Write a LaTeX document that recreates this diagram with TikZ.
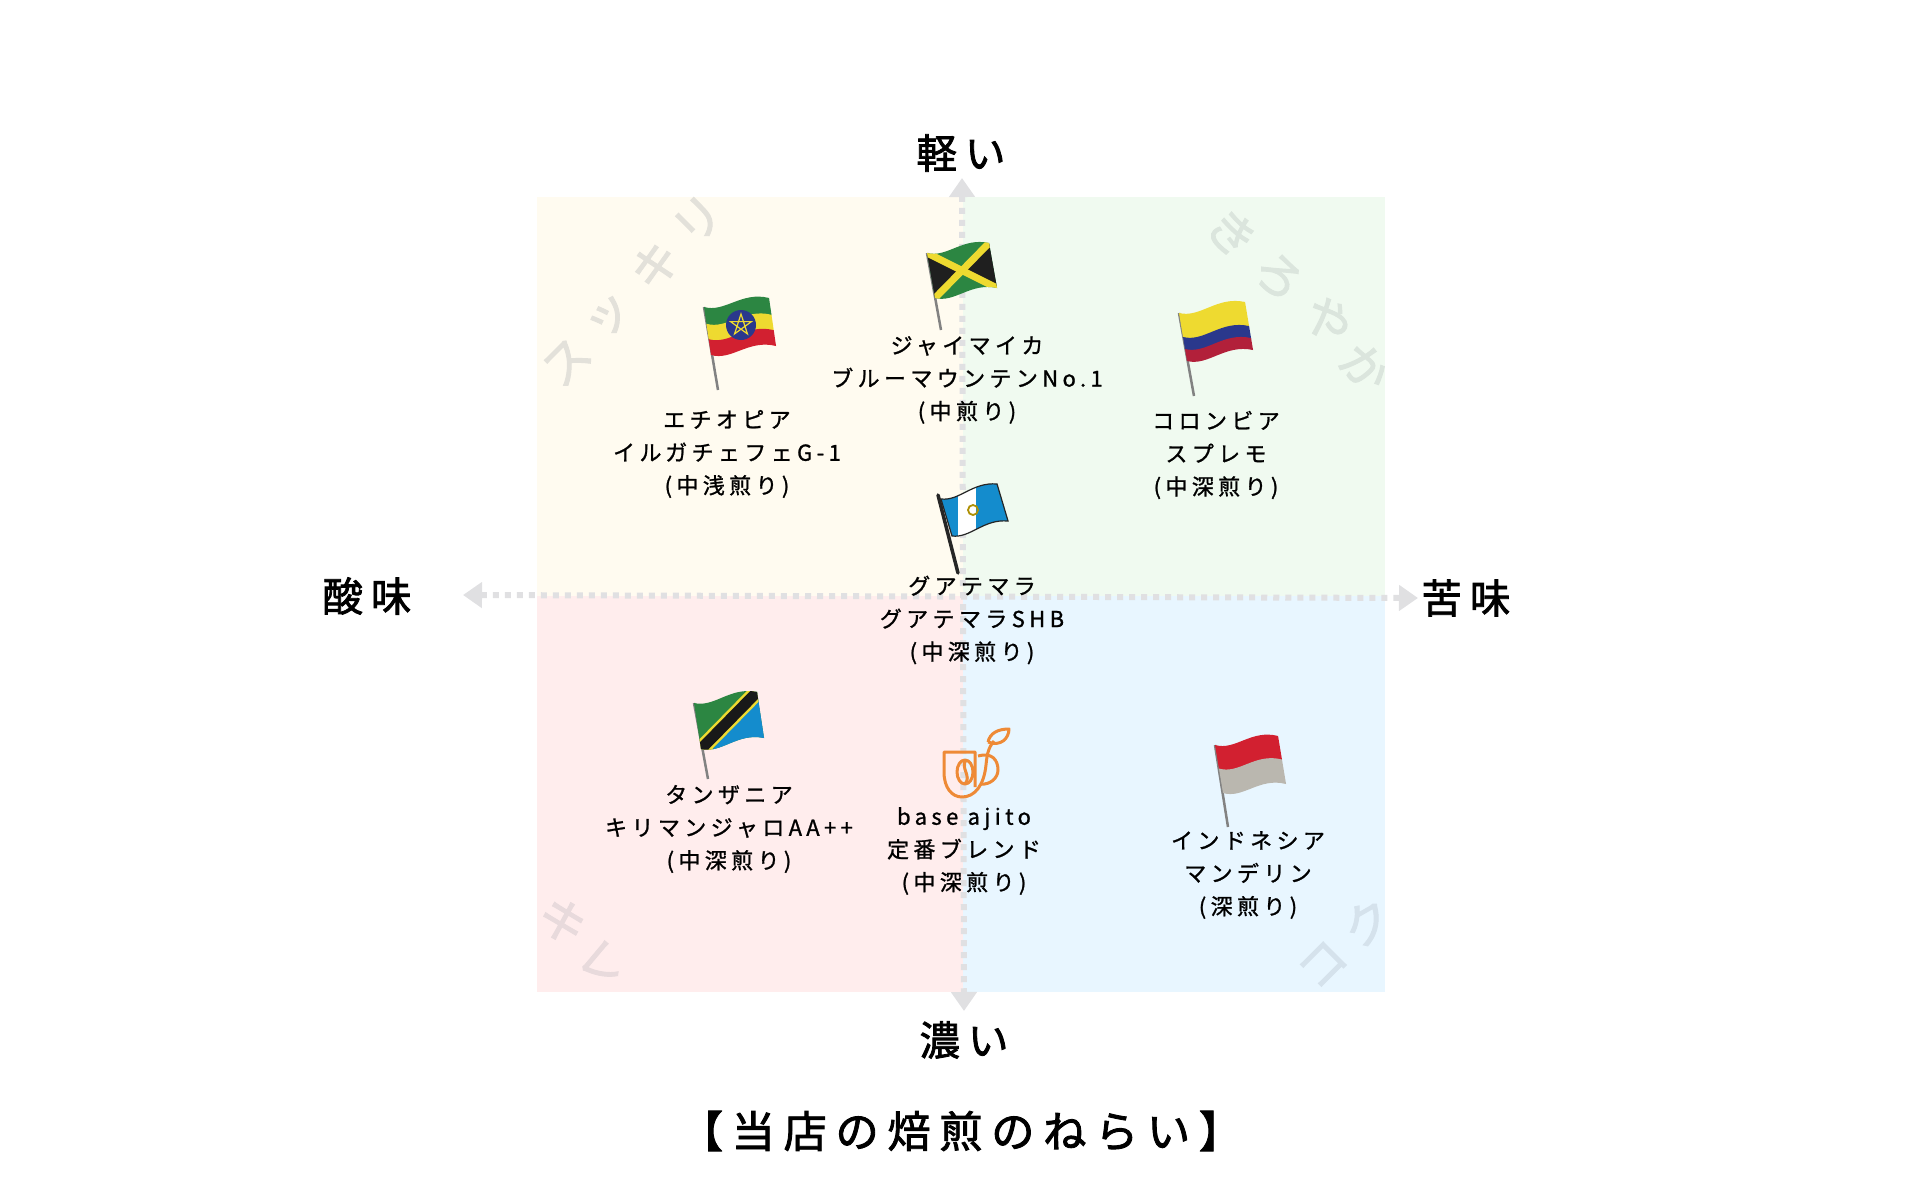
\documentclass[tikz,border=0pt]{standalone}
\usepackage{fontspec}
\usepackage{xcolor}
\setmainfont[LetterSpace=20]{Noto Sans CJK JP}
\newfontfamily\labelfont[LetterSpace=20, FakeBold=1.1]{Noto Sans CJK JP}
\newfontfamily\headfont[LetterSpace=20, FakeBold=2]{Noto Sans CJK JP}
\definecolor{bgyellow}{RGB}{255, 251, 240}
\definecolor{bggreen}{RGB}{240, 250, 240}
\definecolor{bgpink}{RGB}{255, 237, 237}
\definecolor{bgblue}{RGB}{232, 246, 255}
\definecolor{axisgray}{RGB}{224, 224, 226}
\definecolor{flaggreen}{RGB}{44, 134, 66}
\definecolor{flagyellow}{RGB}{238, 218, 48}
\definecolor{flagred}{RGB}{210, 32, 48}
\definecolor{flagblue}{RGB}{42, 56, 140}
\definecolor{flagsky}{RGB}{20, 140, 205}
\definecolor{flagmaroon}{RGB}{178, 32, 58}
\definecolor{polegray}{RGB}{130, 130, 130}
\definecolor{logoorange}{RGB}{238, 138, 54}
\usetikzlibrary{calc, arrows.meta}

% 旗の布(波形)
\newcommand{\clothband}[3]{\fill[#1] (0,#2) .. controls (.3,#2+.18) and (.6,#2-.22) .. (1,#2) -- (1,#3) .. controls (.6,#3-.22) and (.3,#3+.18) .. (0,#3) -- cycle;}
\newcommand{\clothclip}{\clip (0,0) .. controls (.3,.18) and (.6,-.22) .. (1,0) -- (1,1) .. controls (.6,.78) and (.3,1.18) .. (0,1) -- cycle;}

\tikzset{
    labeltext/.style={font=\labelfont\fontsize{6.25}{9.35}\selectfont, align=center, text=black, inner sep=0pt},
    axislabel/.style={font=\headfont\fontsize{11.5}{13}\selectfont, text=black, inner sep=0pt},
    marktext/.style={font=\headfont\fontsize{13.5}{13.5}\selectfont, inner sep=0pt},
    axisline/.style={axisgray, line width=0.06cm, dash pattern=on 0.06cm off 0.06cm, {Triangle[length=0.19cm,width=0.25cm]}-{Triangle[length=0.19cm,width=0.25cm]}},
    pole/.style={polegray, line width=0.025cm},
    logoline/.style={logoorange, line width=0.03cm, line join=round}
}

\begin{document}
\begin{tikzpicture}[x=0.01cm, y=-0.01cm]
\useasboundingbox (0,0) rectangle (1920,1200);

% === 四象限の背景 ===
\fill[bgyellow] (537,197) rectangle (963,596);
\fill[bggreen] (963,197) rectangle (1385,596);
\fill[bgpink] (537,596) rectangle (963,992);
\fill[bgblue] (963,596) rectangle (1385,992);

% === 背景の文字 ===
\foreach \ch/\px/\py/\rot [count=\i] in {ス/567/362/45, ッ/610/317/45, キ/655/265/45, リ/698/220/45} {
    \node[marktext, text={rgb,255:red,227;green,225;blue,218}, rotate=\rot] (sukkiri\i) at (\px,\py) {\ch};
}
\foreach \ch/\px/\py/\rot [count=\i] in {き/1232/233/-45, ろ/1278/277/-45, や/1328/320/-45, か/1365/367/-45} {
    \node[marktext, text={rgb,255:red,219;green,229;blue,221}, rotate=\rot] (karoyaka\i) at (\px,\py) {\ch};
}
\node[marktext, text={rgb,255:red,232;green,218;blue,220}, rotate=-40] (kire1) at (563,921) {キ};
\node[marktext, text={rgb,255:red,232;green,218;blue,220}, rotate=-40] (kire2) at (603,963) {レ};
\node[marktext, text={rgb,255:red,213;green,226;blue,236}, rotate=45] (koku1) at (1323,965) {コ};
\node[marktext, text={rgb,255:red,213;green,226;blue,236}, rotate=30] (koku2) at (1367,923) {ク};

% === 軸 ===
\coordinate (axisL) at (463,595);
\coordinate (axisR) at (1418,598);
\coordinate (axisT) at (962,178);
\coordinate (axisB) at (964,1011);
\draw[axisline] (axisL) -- (axisR);
\draw[axisline] (axisT) -- (axisB);

\node[axislabel] (light) at (961,153) {軽い};
\node[axislabel] (dark) at (964,1040) {濃い};
\node[axislabel] (sour) at (367,596) {酸味};
\node[axislabel] (bitter) at (1466,598) {苦味};

% === エチオピア ===
\draw[pole] (704,307) -- (718,390);
\begin{scope}[shift={(704,307)}, x={(0.65cm,0.09cm)}, y={(0.07cm,-0.48cm)}]
    \clothband{flaggreen}{0}{.36}
    \clothband{flagyellow}{.35}{.68}
    \clothband{flagred}{.67}{1}
\end{scope}
\coordinate (ethstar) at (741,325);
\fill[flagblue] (ethstar) circle (15);
\draw[flagyellow, line width=0.012cm] ($(ethstar)+(-90:11)$) -- ($(ethstar)+(54:11)$) -- ($(ethstar)+(198:11)$) -- ($(ethstar)+(-18:11)$) -- ($(ethstar)+(126:11)$) -- cycle;
\node[labeltext] (ethiopia) at (727,454) {エチオピア\\イルガチェフェG-1\\(中浅煎り)};

% === ジャマイカ ===
\draw[pole] (927,253) -- (941,330);
\begin{scope}[shift={(927,253)}, x={(0.62cm,0.10cm)}, y={(0.08cm,-0.45cm)}]
    \clothclip
    \fill[flaggreen] (-.1,-.3) rectangle (1.1,1.3);
    \fill[black!88] (-.1,-.1) -- (.5,.5) -- (-.1,1.1) -- cycle;
    \fill[black!88] (1.1,-.1) -- (.5,.5) -- (1.1,1.1) -- cycle;
    \draw[flagyellow, line width=0.07cm] (-.05,-.05) -- (1.05,1.05);
    \draw[flagyellow, line width=0.07cm] (-.05,1.05) -- (1.05,-.05);
\end{scope}
\node[labeltext] (jamaica) at (967,380) {ジャイマイカ\\ブルーマウンテンNo.1\\(中煎り)};

% === コロンビア ===
\draw[pole] (1179,313) -- (1194,396);
\begin{scope}[shift={(1179,313)}, x={(0.66cm,0.11cm)}, y={(0.08cm,-0.48cm)}]
    \clothband{flagyellow}{0}{.52}
    \clothband{flagblue}{.5}{.77}
    \clothband{flagmaroon}{.75}{1}
\end{scope}
\node[labeltext] (colombia) at (1216,455) {コロンビア\\スプレモ\\(中深煎り)};

% === グアテマラ ===
\draw[black!85, line width=0.035cm, line cap=round] (938,495) -- (958,573);
\begin{scope}[shift={(941,499)}, x={(0.56cm,0.15cm)}, y={(0.11cm,-0.37cm)}]
    \begin{scope}
        \clothclip
        \fill[flagsky] (-.1,-.3) rectangle (.36,1.3);
        \fill[white] (.36,-.3) rectangle (.68,1.3);
        \fill[flagsky] (.68,-.3) rectangle (1.1,1.3);
    \end{scope}
    \draw[black!85, line width=0.012cm] (0,0) .. controls (.3,.18) and (.6,-.22) .. (1,0) -- (1,1) .. controls (.6,.78) and (.3,1.18) .. (0,1) -- cycle;
\end{scope}
\draw[olive!70!orange, line width=0.018cm] (973,510) circle (5);
\node[labeltext] (guatemala) at (972,620) {グアテマラ\\グアテマラSHB\\(中深煎り)};

% === タンザニア ===
\draw[pole] (694,703) -- (708,779);
\begin{scope}[shift={(694,703)}, x={(0.63cm,0.11cm)}, y={(0.07cm,-0.46cm)}]
    \clothclip
    \fill[flaggreen] (-.1,-.3) rectangle (1.1,1.3);
    \fill[flagsky] (1.1,-.2) -- (1.1,1.3) -- (0,1.3) -- cycle;
    \draw[flagyellow, line width=0.16cm] (-.1,1.1) -- (1.1,-.1);
    \draw[black!90, line width=0.11cm] (-.1,1.1) -- (1.1,-.1);
\end{scope}
\node[labeltext] (tanzania) at (729,829) {タンザニア\\キリマンジャロAA++\\(中深煎り)};

% === 当店のロゴ ===
\draw[logoline] (975,787) -- (975,752) -- (944,752) -- (944,772)
    .. controls (944,788) and (952,797) .. (962,797)
    .. controls (975,797) and (984,785) .. (986,765)
    .. controls (987,755) and (988,748) .. (994,741);
\draw[logoline] (978,756) .. controls (992,752) and (998,760) .. (998,770) .. controls (998,778) and (990,785) .. (981,784);
\draw[logoline] (965,772) ellipse (8 and 12);
\draw[logoline] (966,760) .. controls (960,768) and (972,776) .. (965,784);
\draw[logoline] (988,742) .. controls (990,733) and (998,729) .. (1009,729) .. controls (1009,738) and (1001,747) .. (988,742);
\node[labeltext] (ajito) at (964,851) {base ajito\\定番ブレンド\\(中深煎り)};

% === インドネシア ===
\draw[pole] (1215,745) -- (1228,827);
\begin{scope}[shift={(1215,745)}, x={(0.63cm,0.09cm)}, y={(0.08cm,-0.48cm)}]
    \clothband{flagred}{0}{.5}
    \clothband{black!27!bgyellow}{.49}{1}
\end{scope}
\node[labeltext] (indonesia) at (1248,875) {インドネシア\\マンデリン\\(深煎り)};

% === 題名 ===
\node[font=\headfont\fontsize{12.3}{14}\selectfont, inner sep=0pt] (title) at (961,1131) {【当店の焙煎のねらい】};

\end{tikzpicture}
\end{document}
